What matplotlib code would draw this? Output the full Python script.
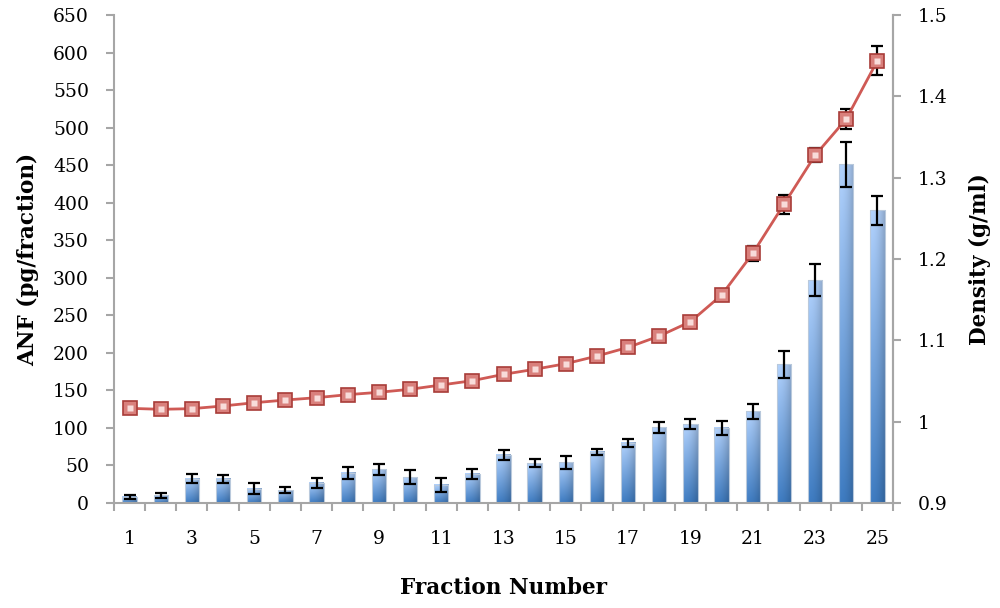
import matplotlib.pyplot as plt
import numpy as np
from matplotlib.ticker import FuncFormatter

plt.rcParams['font.family'] = ['DejaVu Serif']

# fraction numbers
fractions = np.arange(1, 26)

# ANF (pg/fraction), bars
anf = [8, 10, 32, 32, 19, 17, 27, 40, 45, 34, 24, 39, 64, 53, 54,
       68, 80, 101, 105, 100, 122, 185, 297, 451, 390]
anf_err = [3, 3, 6, 5, 7, 4, 6.5, 8, 7.3, 9.3, 8.7, 6.9, 7, 5, 8.4,
           4, 5.3, 7.3, 7, 9.8, 10.4, 18, 21, 30, 19.5]

# density (g/ml), line
density = [1.0164, 1.0152, 1.016, 1.0193, 1.0233, 1.0266, 1.0295, 1.0332,
           1.0361, 1.0398, 1.0451, 1.0504, 1.0582, 1.0644, 1.0713, 1.0807,
           1.0914, 1.1053, 1.1229, 1.1557, 1.207, 1.2673, 1.3275, 1.3722,
           1.4438]
density_err = [0.002, 0.002, 0.002, 0.002, 0.002, 0.002, 0.002, 0.002,
               0.002, 0.002, 0.002, 0.002, 0.002, 0.002, 0.002, 0.002,
               0.002, 0.002, 0.003, 0.004, 0.009, 0.0117, 0.0088, 0.0127,
               0.0178]

axis_grey = '#a6a6a6'
bar_w = 0.46

fig = plt.figure(figsize=(10, 6.08), dpi=100)
ax = fig.add_axes([0.114, 0.1727, 0.779, 0.8026])

# bar fill: dark at the bottom -> light at the top, slightly darker on the right
gx = np.linspace(0, 1, 40)
gy = np.linspace(0, 1, 80)
GX, GY = np.meshgrid(gx, gy)
dark_c = np.array([0.23, 0.46, 0.72])
light_c = np.array([0.66, 0.78, 0.94])
col = dark_c * (1 - GY[..., None]) + light_c * GY[..., None]
shade = 1.06 - 0.22 * GX ** 2
col = np.clip(col * shade[..., None], 0, 1)

bars = ax.bar(fractions, anf, width=bar_w, color='none', edgecolor='none', zorder=2)
for b in bars:
    x0, y0 = b.get_x(), b.get_y()
    ax.imshow(col, extent=[x0, x0 + b.get_width(), y0, y0 + b.get_height()],
              aspect='auto', origin='lower', zorder=2, interpolation='bilinear')
    # thin outline like the soft edge of the 3-D bars
    ax.plot([x0, x0, x0 + b.get_width(), x0 + b.get_width()],
            [0, y0 + b.get_height(), y0 + b.get_height(), 0],
            color='#b9c9dc', lw=0.8, zorder=2.1)

ax.errorbar(fractions, anf, yerr=anf_err, fmt='none', ecolor='black',
            elinewidth=1.6, capsize=4.5, capthick=1.6, zorder=3)

ax.set_xlim(0.5, 25.5)
ax.set_ylim(0, 650)
ax.set_yticks(np.arange(0, 651, 50))
ax.set_xticks(np.arange(1, 26, 2))
ax.set_xticks(np.arange(0.5, 25.6, 1), minor=True)
ax.tick_params(axis='x', which='major', length=0, pad=19.5, labelsize=13.5)
ax.tick_params(axis='x', which='minor', length=6, width=1.5, color=axis_grey)
ax.tick_params(axis='y', length=6, width=1.5, color=axis_grey, labelsize=13.5, pad=12)

ax.spines['top'].set_visible(False)
for s in ['left', 'bottom', 'right']:
    ax.spines[s].set_color(axis_grey)
    ax.spines[s].set_linewidth(1.5)

ax.set_ylabel('ANF (pg/fraction)', fontsize=15.5, fontweight='bold', labelpad=10)
ax.set_xlabel('Fraction Number', fontsize=15.5, fontweight='bold', labelpad=21)

ax2 = ax.twinx()
ax2.set_ylim(0.9, 1.5)
ax2.set_yticks(np.arange(0.9, 1.51, 0.1))
ax2.yaxis.set_major_formatter(FuncFormatter(lambda v, p: '%g' % round(v, 2)))
ax2.tick_params(axis='y', length=6, width=1.5, color=axis_grey, labelsize=13.5, pad=12)
for s in ['top', 'left', 'bottom']:
    ax2.spines[s].set_visible(False)
ax2.spines['right'].set_color(axis_grey)
ax2.spines['right'].set_linewidth(1.5)

ax2.errorbar(fractions, density, yerr=density_err, fmt='none', ecolor='black',
             elinewidth=1.6, capsize=4.5, capthick=1.6, zorder=3)
ax2.plot(fractions, density, color='#cf5a55', lw=2, zorder=4)
ax2.plot(fractions, density, ls='none', marker='s', ms=10,
         markerfacecolor='#d9807c', markeredgecolor='#a83c38', mew=1.2, zorder=5)
ax2.plot(fractions, density, ls='none', marker='s', ms=5,
         markerfacecolor='#f8dcda', markeredgecolor='none', zorder=6)
ax2.set_ylabel('Density (g/ml)', fontsize=15.5, fontweight='bold', labelpad=15)

fig.savefig('out.png', dpi=100)
